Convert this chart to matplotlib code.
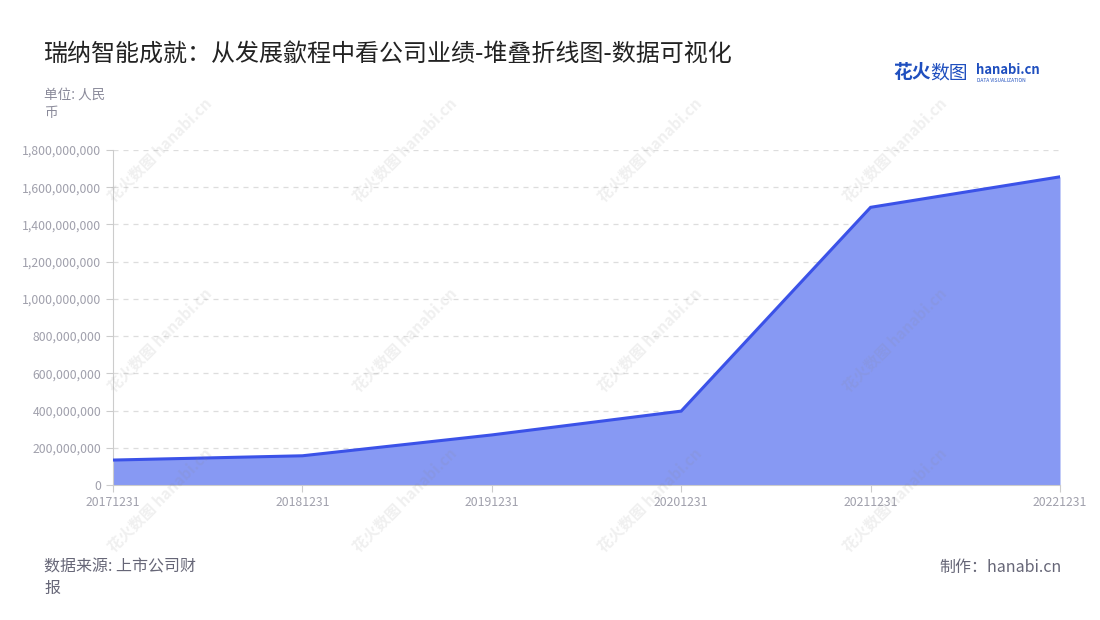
import matplotlib
matplotlib.use("Agg")
import matplotlib.pyplot as plt
from matplotlib.ticker import FuncFormatter

plt.rcParams['font.family'] = ['Noto Sans CJK SC', 'DejaVu Sans']

categories = ["20171231", "20181231", "20191231", "20201231", "20211231", "20221231"]
values = [134e6, 157e6, 269e6, 397e6, 1492e6, 1656e6]
yticks = [0, 200e6, 400e6, 600e6, 800e6, 1000e6, 1200e6, 1400e6, 1600e6, 1800e6]

title = "瑞纳智能成就：从发展歙程中看公司业绩-堆叠折线图-数据可视化"
unit = "单位: 人民\n币"
source = "数据来源: 上市公司财\n报"
maker = "制作：hanabi.cn"

fig = plt.figure(figsize=(11, 6.2), dpi=100)
ax = fig.add_axes([113/1100, 1-485/620, (1060-113)/1100, (485-150)/620])

x = list(range(len(categories)))
ax.fill_between(x, values, 0, color="#8799f3", lw=0, zorder=2)
ax.plot(x, values, color="#3b52e8", lw=2.2, zorder=3, solid_joinstyle="miter")

ax.set_xlim(0, len(categories)-1)
ax.set_ylim(0, 1800e6)
ax.set_xticks(x)
ax.set_xticklabels(categories)
ax.set_yticks(yticks)
ax.yaxis.set_major_formatter(FuncFormatter(lambda v, p: f"{int(v):,}"))
ax.grid(axis="y", color="#dddddd", linestyle=(0, (4, 4)), lw=0.9, zorder=1)
ax.set_axisbelow(True)
for s in ["top", "right"]:
    ax.spines[s].set_visible(False)
for s in ["left", "bottom"]:
    ax.spines[s].set_color("#cccccc")
ax.tick_params(axis="both", colors="#cccccc", labelcolor="#a0a0ac", labelsize=8.8, length=5)
ax.tick_params(axis="x", pad=3)

# watermarks
for wx in [160, 405, 650, 895]:
    for wy in [150, 340, 500]:
        fig.text(wx/1100, 1-wy/620, "花火数图 hanabi.cn", rotation=45, fontsize=11,
                 color="#888888", alpha=0.13, ha="center", va="center", fontweight="bold", zorder=5)

fig.text(44/1100, 1-55/620, title, fontsize=17.3, color="#222222", ha="left", va="center")
fig.text(44/1100, 1-104/620, unit, fontsize=9.8, color="#8a8a9a", ha="left", va="center", linespacing=1.45)
fig.text(44/1100, 1-578/620, source, fontsize=11.5, color="#666677", ha="left", va="center", linespacing=1.35)
fig.text(1062/1100, 1-567/620, maker, fontsize=11.5, color="#666677", ha="right", va="center")

# logo
fig.text(893/1100, 1-73/620, "花火", fontsize=13.5, color="#1f4fbf", ha="left", va="center", fontweight="bold")
fig.text(930/1100, 1-73/620, "数图", fontsize=13.5, color="#1f4fbf", ha="left", va="center")
fig.text(976/1100, 1-70/620, "hanabi.cn", fontsize=9.4, color="#1f4fbf", ha="left", va="center", fontweight="bold")
fig.text(977/1100, 1-81/620, "DATA VISUALIZATION", fontsize=3.5, color="#1f4fbf", ha="left", va="center")

fig.savefig("out.png", dpi=100, facecolor="white")
